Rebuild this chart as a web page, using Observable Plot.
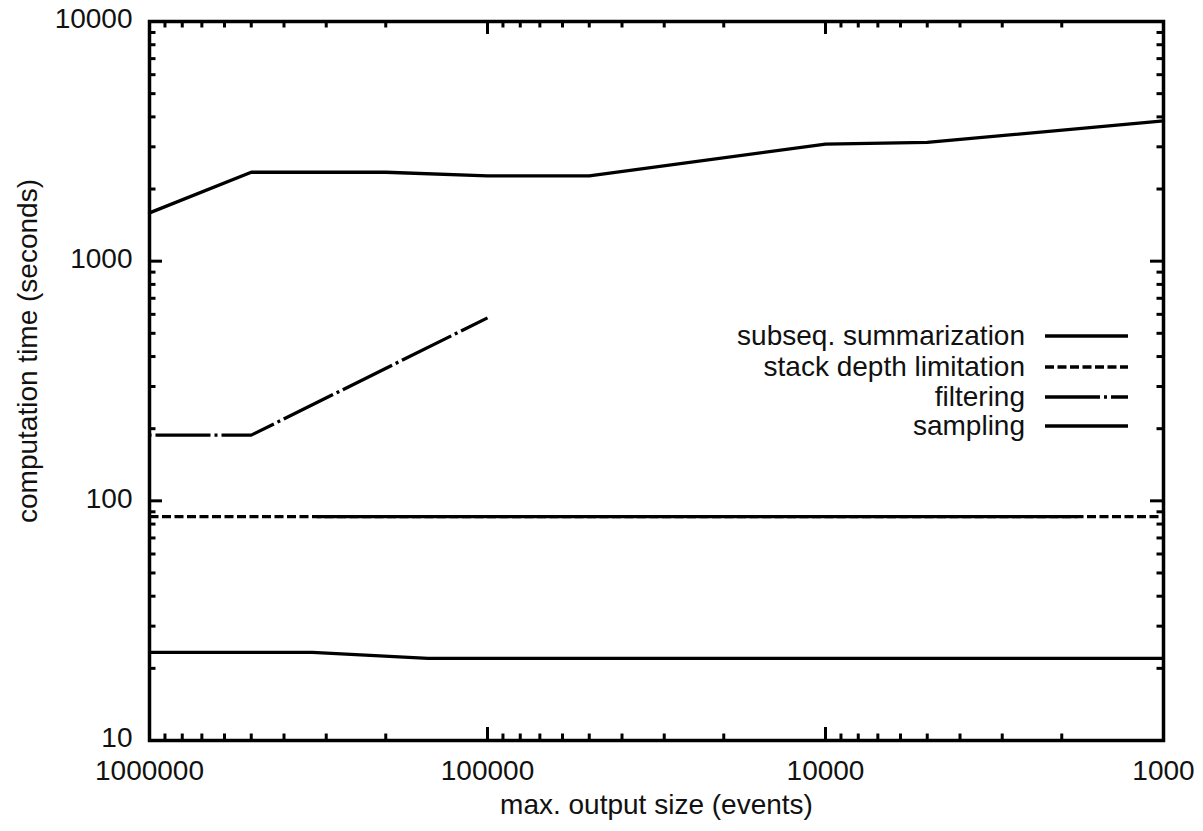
<!DOCTYPE html>
<html>
<head>
<meta charset="utf-8">
<script src="https://cdn.jsdelivr.net/npm/d3@7"></script>
<script src="https://cdn.jsdelivr.net/npm/@observablehq/plot@0.6"></script>
<style>
html, body { margin: 0; padding: 0; background: #fff; }
</style>
</head>
<body>
<div id="chart"></div>
<script>
// ---- data ----
const seriesNames = ["subseq. summarization", "stack depth limitation", "filtering", "sampling"];

const summX = [1e6, 5e5, 2e5, 1e5, 5e4, 1e4, 5e3, 1e3];
const summY = [1590, 2350, 2350, 2270, 2270, 3080, 3130, 3850];

const stackX = [1e6, 1e3];
const stackY = [86, 86];

const filterX = [1e6, 5e5, 1e5];
const filterY = [188, 188, 580];

const sampX = [1e6, 3.3e5, 1.5e5, 1e3];
const sampY = [23.3, 23.3, 22.0, 22.0];

// unlabeled solid segment drawn over the dashed line at ~86 s
const overlayX = [3.2e5, 1.8e3];
const overlayY = [86, 86];

// ---- tick values / labels ----
const xMajor = [1e6, 1e5, 1e4, 1e3];
const yMajor = [10, 100, 1000, 10000];
const minorMult = [2, 3, 4, 5, 6, 7, 8, 9];
const xMinor = [1e5, 1e4, 1e3].flatMap(b => minorMult.map(m => m * b));
const yMinor = [10, 100, 1000].flatMap(b => minorMult.map(m => m * b));

const xLabel = "max. output size (events)";
const yLabel = "computation time (seconds)";

// ---- layout ----
const W = 1203, H = 831;
const mL = 149, mR = 40, mT = 21, mB = 91;
const innerW = W - mL - mR;
const innerH = H - mT - mB;
const FONT = "Liberation Sans, Arial, Helvetica, sans-serif";
const FS = 28;
const LW = 3.3;

const toRows = (xs, ys) => xs.map((x, i) => ({x, y: ys[i]}));

const majorLen = 13, minorLen = 6.5;
const tickMarks = [
  // bottom / top x ticks
  Plot.tickX(xMajor, {x: d => d, insetTop: innerH - majorLen, strokeWidth: 3}),
  Plot.tickX(xMajor, {x: d => d, insetBottom: innerH - majorLen, strokeWidth: 3}),
  Plot.tickX(xMinor, {x: d => d, insetTop: innerH - minorLen, strokeWidth: 3}),
  Plot.tickX(xMinor, {x: d => d, insetBottom: innerH - minorLen, strokeWidth: 3}),
  // left / right y ticks
  Plot.tickY(yMajor, {y: d => d, insetRight: innerW - majorLen, strokeWidth: 3}),
  Plot.tickY(yMajor, {y: d => d, insetLeft: innerW - majorLen, strokeWidth: 3}),
  Plot.tickY(yMinor, {y: d => d, insetRight: innerW - minorLen, strokeWidth: 3}),
  Plot.tickY(yMinor, {y: d => d, insetLeft: innerW - minorLen, strokeWidth: 3})
];

const filterDash = "55,4,3,4";
const stackDash = "9,3.5";

const chart = Plot.plot({
  width: W,
  height: H,
  marginLeft: mL,
  marginRight: mR,
  marginTop: mT,
  marginBottom: mB,
  style: {fontFamily: FONT, fontSize: FS + "px", background: "#fff", color: "#000"},
  x: {type: "log", domain: [1e6, 1e3], label: null},
  y: {type: "log", domain: [10, 10000], label: null},
  marks: [
    ...tickMarks,
    Plot.line(toRows(summX, summY), {x: "x", y: "y", stroke: "#000", strokeWidth: LW, strokeLinejoin: "miter"}),
    Plot.line(toRows(stackX, stackY), {x: "x", y: "y", stroke: "#000", strokeWidth: LW, strokeDasharray: stackDash, strokeLinecap: "butt"}),
    Plot.line(toRows(overlayX, overlayY), {x: "x", y: "y", stroke: "#000", strokeWidth: LW, strokeLinecap: "butt"}),
    Plot.line(toRows(filterX, filterY), {x: "x", y: "y", stroke: "#000", strokeWidth: LW, strokeDasharray: filterDash, strokeDashoffset: 60, strokeLinecap: "butt", strokeLinejoin: "miter"}),
    Plot.line(toRows(sampX, sampY), {x: "x", y: "y", stroke: "#000", strokeWidth: LW}),
    Plot.frame({stroke: "#000", strokeWidth: 3.5}),
    Plot.axisX(xMajor, {anchor: "bottom", tickSize: 0, tickPadding: 20, tickFormat: d => String(d), fontSize: FS, label: null, fill: "#111"}),
    Plot.axisY(yMajor, {anchor: "left", tickSize: 0, tickPadding: 17, tickFormat: d => String(d), fontSize: FS, label: null, fill: "#111", dy: -2}),
    Plot.text([xLabel], {frameAnchor: "bottom", dy: 73, text: d => d, fontSize: FS, fill: "#111"}),
    Plot.text([yLabel], {frameAnchor: "left", textAnchor: "middle", rotate: -90, dx: -121, dy: -30, text: d => d, fontSize: FS, fill: "#111"})
  ]
});

document.getElementById("chart").appendChild(chart);

// ---- legend (inside the plot, top-right area) ----
const svg = d3.select(chart);
const legendStyles = [
  {dash: null},
  {dash: stackDash},
  {dash: filterDash},
  {dash: null}
];
const legendRowsY = [336, 367, 397, 426];
const lg = svg.append("g").attr("class", "legend");
seriesNames.forEach((name, i) => {
  lg.append("text")
    .attr("x", 1025)
    .attr("y", legendRowsY[i])
    .attr("dy", "0.32em")
    .attr("text-anchor", "end")
    .attr("font-family", FONT)
    .attr("font-size", FS)
    .attr("fill", "#111")
    .text(name);
  const ln = lg.append("line")
    .attr("x1", 1045).attr("x2", 1128)
    .attr("y1", legendRowsY[i]).attr("y2", legendRowsY[i])
    .attr("stroke", "#000")
    .attr("stroke-width", LW);
  if (legendStyles[i].dash) ln.attr("stroke-dasharray", legendStyles[i].dash);
});
</script>
</body>
</html>
